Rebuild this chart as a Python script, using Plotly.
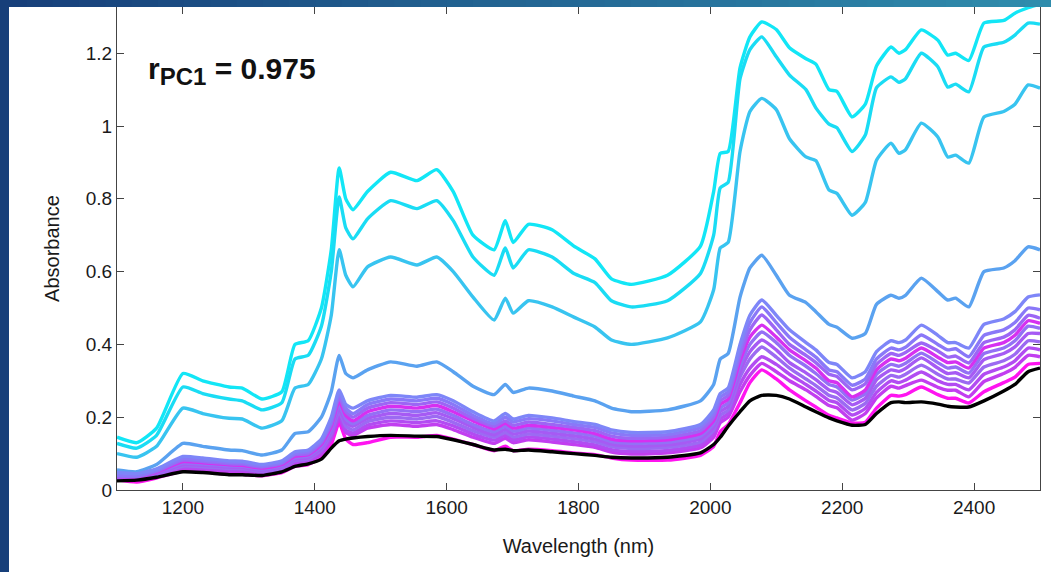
import plotly.graph_objects as go

# ---------------- data ----------------
wavelength = [1100, 1130, 1160, 1200, 1230, 1270, 1290, 1320, 1350, 1370,
              1390, 1410, 1425, 1437, 1447, 1458, 1480, 1515, 1555, 1585,
              1610, 1640, 1672, 1689, 1701, 1724, 1760, 1793, 1825, 1850,
              1880, 1935, 1985, 2005, 2015, 2027, 2045, 2060, 2078, 2100,
              2120, 2145, 2160, 2180, 2192, 2215, 2235, 2252, 2274, 2286,
              2296, 2320, 2345, 2360, 2372, 2392, 2415, 2445, 2462, 2482, 2500]

spec_a = [.145, .13, .17, .32, .30, .283, .28, .25, .27, .40,
          .41, .50, .66, .885, .80, .77, .82, .873, .85, .88,
          .82, .70, .66, .74, .68, .73, .715, .67, .635, .58,
          .565, .59, .67, .82, .925, .93, 1.16, 1.245, 1.286, 1.265,
          1.215, 1.185, 1.17, 1.10, 1.095, 1.025, 1.06, 1.165, 1.217, 1.20,
          1.21, 1.264, 1.236, 1.195, 1.20, 1.18, 1.283, 1.29, 1.31, 1.325, 1.335]

spec_b = [.128, .115, .15, .283, .265, .25, .245, .22, .24, .36,
          .37, .45, .60, .805, .72, .69, .745, .795, .773, .795,
          .74, .64, .59, .665, .61, .66, .64, .595, .57, .52,
          .503, .52, .595, .70, .83, .845, 1.13, 1.21, 1.245, 1.19,
          1.14, 1.10, 1.05, 1.005, .995, .93, .975, 1.105, 1.135, 1.12,
          1.13, 1.20, 1.163, 1.107, 1.115, 1.094, 1.217, 1.23, 1.25, 1.283, 1.28]

spec_c = [.10, .09, .12, .225, .21, .197, .195, .17, .19, .28,
          .29, .36, .48, .66, .59, .558, .613, .64, .618, .64,
          .60, .53, .467, .527, .486, .52, .503, .475, .448, .412,
          .40, .418, .462, .55, .665, .68, .93, 1.04, 1.076, 1.045,
          .965, .915, .905, .824, .815, .755, .79, .906, .953, .925,
          .935, 1.008, .97, .915, .92, .898, 1.025, 1.04, 1.06, 1.113, 1.104]

spec_d = [.055, .05, .07, .128, .12, .11, .108, .096, .11, .155,
          .16, .20, .27, .37, .32, .308, .33, .352, .34, .352,
          .325, .285, .262, .29, .268, .28, .272, .258, .245, .225,
          .215, .22, .245, .29, .36, .375, .53, .61, .645, .59,
          .535, .515, .49, .455, .447, .417, .43, .51, .535, .527,
          .535, .582, .545, .522, .527, .503, .60, .61, .63, .668, .66]

spec_p1 = [.048, .045, .058, .092, .088, .08, .079, .07, .08, .105,
           .11, .14, .20, .275, .235, .225, .245, .26, .255, .262,
           .245, .215, .19, .21, .195, .205, .198, .188, .18, .165,
           .158, .16, .18, .22, .265, .28, .40, .48, .522, .48,
           .44, .405, .385, .35, .345, .308, .325, .38, .41, .405,
           .412, .453, .425, .405, .405, .39, .455, .47, .49, .53, .536]

spec_p2 = [.040, .039, .053, .086, .082, .076, .075, .066, .076, .10,
           .105, .135, .19, .265, .225, .21, .235, .25, .245, .252,
           .235, .205, .182, .20, .187, .196, .19, .18, .172, .157,
           .15, .152, .172, .21, .255, .27, .385, .46, .503, .46,
           .42, .385, .365, .33, .325, .288, .305, .36, .39, .385,
           .392, .426, .40, .385, .388, .366, .425, .44, .46, .50, .495]

spec_p3 = [.038, .037, .051, .082, .078, .072, .071, .063, .073, .097,
           .10, .13, .182, .255, .215, .20, .225, .24, .235, .242,
           .225, .197, .175, .19, .178, .187, .18, .172, .163, .148,
           .142, .145, .163, .20, .245, .26, .37, .44, .481, .44,
           .40, .37, .35, .318, .312, .275, .292, .345, .375, .37,
           .378, .404, .382, .365, .368, .349, .405, .42, .44, .48, .472]

spec_p4 = [.037, .036, .049, .078, .075, .069, .068, .06, .07, .093,
           .097, .125, .175, .245, .205, .19, .215, .23, .225, .232,
           .215, .19, .168, .183, .17, .178, .172, .165, .155, .14,
           .135, .138, .155, .19, .235, .25, .355, .42, .453, .42,
           .385, .355, .335, .30, .295, .256, .275, .33, .36, .355,
           .362, .39, .365, .35, .352, .335, .39, .405, .425, .465, .458]

spec_p5 = [.036, .035, .047, .074, .071, .066, .065, .057, .067, .089,
           .093, .12, .168, .235, .195, .182, .205, .22, .215, .222,
           .205, .18, .16, .175, .162, .17, .164, .157, .148, .133,
           .128, .131, .148, .182, .225, .24, .34, .40, .434, .405,
           .37, .34, .32, .29, .283, .247, .265, .318, .345, .34,
           .348, .376, .35, .335, .338, .321, .375, .39, .41, .45, .444]

spec_p6 = [.034, .034, .045, .07, .068, .063, .062, .054, .064, .085,
           .089, .115, .162, .225, .185, .175, .197, .21, .205, .212,
           .196, .172, .152, .167, .154, .162, .156, .149, .14, .126,
           .121, .124, .14, .173, .215, .23, .325, .38, .412, .385,
           .35, .322, .303, .275, .268, .234, .252, .303, .33, .326,
           .334, .363, .335, .32, .322, .308, .358, .375, .393, .43, .43]

spec_p7 = [.033, .033, .043, .066, .064, .059, .058, .051, .06, .081,
           .085, .11, .155, .215, .175, .165, .188, .20, .195, .202,
           .186, .163, .145, .158, .146, .154, .148, .141, .132, .119,
           .114, .117, .132, .165, .205, .22, .31, .36, .393, .365,
           .335, .305, .287, .26, .253, .22, .238, .285, .315, .31,
           .318, .343, .318, .305, .305, .294, .338, .355, .373, .41, .407]

spec_p8 = [.031, .032, .041, .062, .06, .055, .054, .048, .057, .077,
           .081, .104, .148, .205, .165, .157, .178, .19, .185, .19,
           .176, .154, .137, .15, .138, .146, .14, .133, .124, .111,
           .106, .109, .124, .155, .195, .21, .29, .335, .366, .345,
           .318, .29, .272, .246, .24, .206, .224, .268, .30, .295,
           .302, .324, .30, .29, .29, .275, .318, .338, .355, .39, .385]

spec_p9 = [.03, .031, .039, .058, .056, .051, .05, .045, .054, .073,
           .078, .098, .14, .195, .158, .15, .17, .18, .175, .18,
           .166, .145, .128, .142, .13, .138, .132, .125, .117, .104,
           .099, .102, .116, .145, .185, .20, .27, .315, .348, .325,
           .30, .275, .257, .232, .226, .192, .21, .253, .285, .28,
           .287, .302, .282, .274, .274, .256, .298, .32, .337, .37, .366]

spec_m = [.028, .022, .033, .052, .05, .043, .043, .039, .048, .065,
          .07, .088, .125, .185, .14, .125, .13, .145, .145, .15,
          .14, .125, .108, .12, .108, .112, .108, .102, .097, .088,
          .082, .082, .095, .12, .16, .18, .24, .295, .33, .305,
          .275, .245, .228, .205, .198, .184, .186, .225, .26, .258,
          .262, .283, .262, .252, .252, .239, .27, .295, .31, .345, .348]

reference = [.025, .027, .035, .05, .048, .042, .042, .04, .05, .065,
             .072, .085, .115, .135, .14, .143, .147, .15, .148, .147,
             .138, .125, .11, .112, .108, .11, .105, .10, .095, .09,
             .088, .09, .102, .125, .145, .175, .215, .245, .26, .26,
             .25, .228, .215, .198, .19, .178, .18, .21, .24, .242,
             .24, .242, .236, .23, .228, .228, .245, .272, .29, .325, .335]

spectra = [spec_a, spec_b, spec_c, spec_d, spec_m, spec_p9, spec_p8, spec_p7,
           spec_p6, spec_p5, spec_p4, spec_p3, spec_p2, spec_p1]
colors = ["#12E6F6", "#1ADCF4", "#38C4F0", "#5AA2F0", "#FF14F0", "#C23EF0",
          "#B24CF2", "#9C6AF2", "#A65AF4", "#9470F5", "#D630F0", "#9C66F5",
          "#8A78F8", "#7E86F8"]

x_ticks = [1200, 1400, 1600, 1800, 2000, 2200, 2400]
y_ticks = [0, 0.2, 0.4, 0.6, 0.8, 1, 1.2]
y_tick_labels = ["0", "0.2", "0.4", "0.6", "0.8", "1", "1.2"]

# ---------------- figure ----------------
W, H = 1051, 572
L, R, T, B = 117, 11, 7, 82
pw, ph = W - L - R, H - T - B

fig = go.Figure()
for ys, c in zip(spectra, colors):
    fig.add_trace(go.Scatter(x=wavelength, y=ys, mode="lines",
                             line=dict(color=c, width=3.4, shape="spline", smoothing=0.5),
                             showlegend=False, hoverinfo="skip"))
fig.add_trace(go.Scatter(x=wavelength, y=reference, mode="lines",
                         line=dict(color="#000000", width=3.4, shape="spline", smoothing=0.5),
                         showlegend=False, hoverinfo="skip"))

font_family = "Liberation Sans, Arial, sans-serif"
axis_common = dict(showline=True, linecolor="#444444", linewidth=1.3, mirror="allticks",
                   ticks="inside", ticklen=7, tickcolor="#444444", tickwidth=1.3,
                   showgrid=False, zeroline=False,
                   tickfont=dict(family=font_family, size=19, color="#1a1a1a"))

fig.update_xaxes(range=[1100, 2500], tickvals=x_ticks, **axis_common,
                 title=dict(text="Wavelength (nm)", font=dict(family=font_family, size=20, color="#1a1a1a"),
                            standoff=22))
fig.update_yaxes(range=[0, 1.327], tickvals=y_ticks, ticktext=y_tick_labels, **axis_common,
                 title=dict(text="Absorbance", font=dict(family=font_family, size=20, color="#1a1a1a"),
                            standoff=20))

def px_to_paper_x(px):
    return (px - L) / pw

def px_to_paper_y(py):
    return (H - B - py) / ph

shapes = []
# left dark-blue strip
shapes.append(dict(type="rect", xref="paper", yref="paper",
                   x0=px_to_paper_x(0), x1=px_to_paper_x(9),
                   y0=px_to_paper_y(H), y1=px_to_paper_y(0),
                   fillcolor="#173F7A", line=dict(width=0), layer="above"))
# top gradient strip
n = 40
c0 = (23, 63, 122)
c1 = (47, 140, 172)
for i in range(n):
    t = i / (n - 1)
    col = "rgb(%d,%d,%d)" % tuple(round(a + (b - a) * t) for a, b in zip(c0, c1))
    shapes.append(dict(type="rect", xref="paper", yref="paper",
                       x0=px_to_paper_x(i * W / n), x1=px_to_paper_x((i + 1) * W / n + 1),
                       y0=px_to_paper_y(T), y1=px_to_paper_y(0),
                       fillcolor=col, line=dict(width=0), layer="above"))

fig.update_layout(
    width=W, height=H,
    margin=dict(l=L, r=R, t=T, b=B),
    paper_bgcolor="white", plot_bgcolor="white",
    shapes=shapes,
    annotations=[dict(xref="paper", yref="paper",
                      x=px_to_paper_x(146), y=px_to_paper_y(71),
                      xanchor="left", yanchor="middle",
                      text="<b>r<sub><span style='font-size:24px'>PC1</span></sub> = 0.975</b>",
                      showarrow=False,
                      font=dict(family=font_family, size=30, color="#111111"))],
)

fig.write_html("out.html")
